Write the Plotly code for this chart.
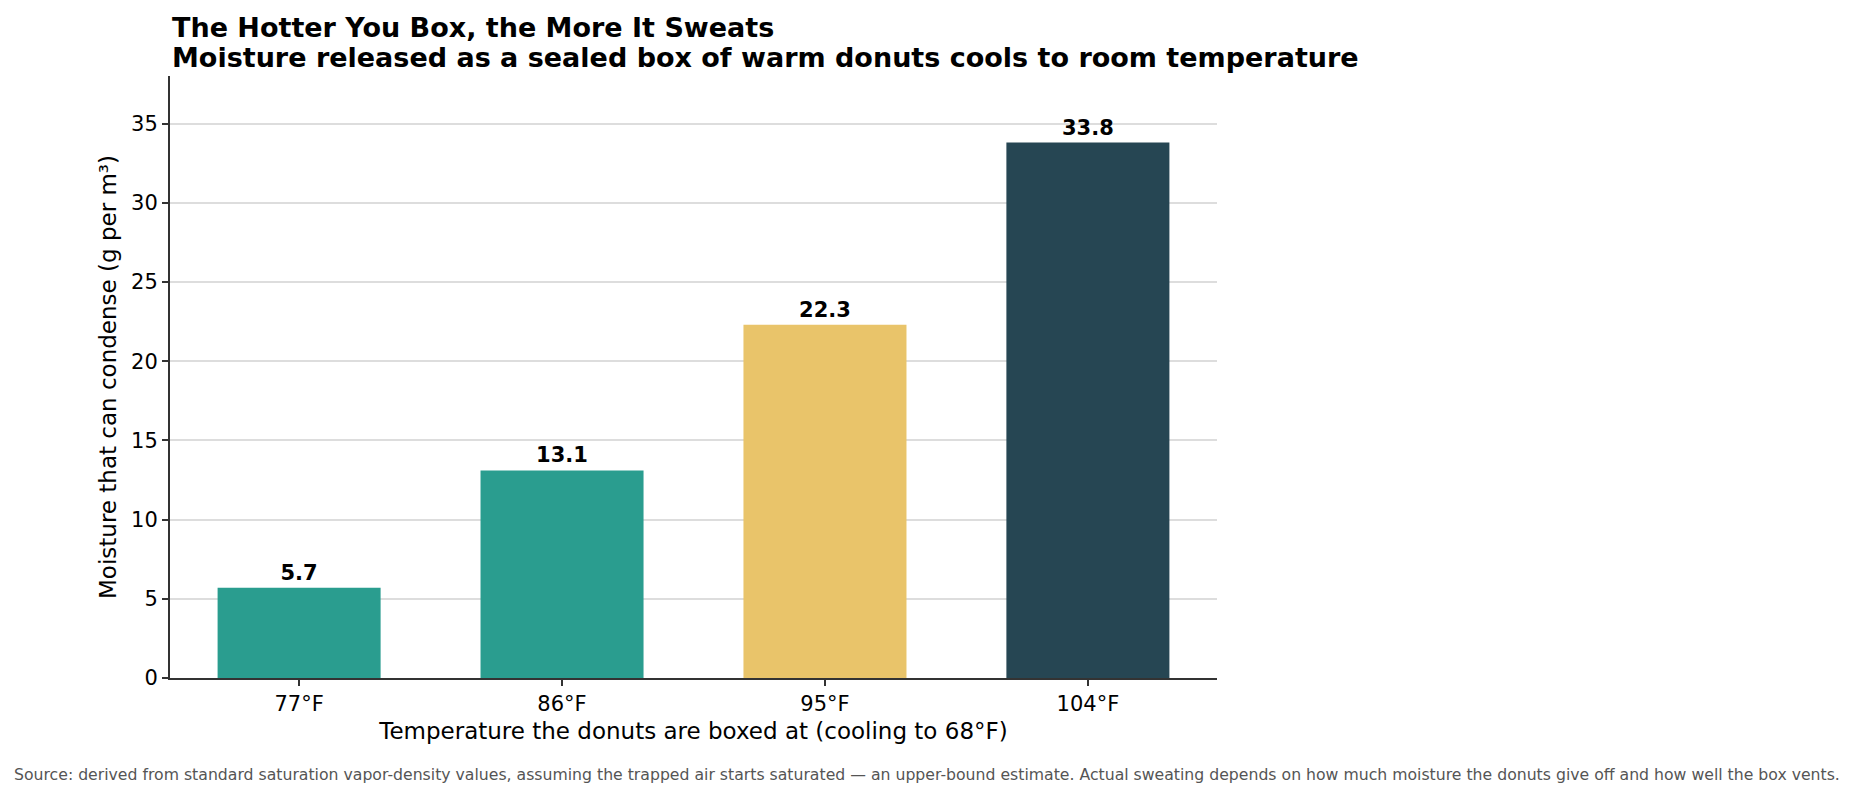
import plotly.graph_objects as go

# data
temps = ["77°F", "86°F", "95°F", "104°F"]
moisture = [5.7, 13.1, 22.3, 33.8]
bar_colors = ["#2a9d8f", "#2a9d8f", "#e9c46a", "#264653"]
labels = [f"{v:.1f}" for v in moisture]

FONT = "DejaVu Sans"

fig = go.Figure()
fig.add_trace(go.Bar(
    x=list(range(len(temps))),
    y=moisture,
    width=0.62,
    marker=dict(color=bar_colors, line=dict(width=0)),
    text=labels,
    textposition="outside",
    textfont=dict(family=FONT, size=21, color="black", weight="bold"),
    cliponaxis=False,
    hoverinfo="x+y",
))

fig.update_layout(
    width=1853,
    height=797,
    margin=dict(l=170, r=636, t=76, b=119),
    plot_bgcolor="white",
    paper_bgcolor="white",
    font=dict(family=FONT, size=21, color="black"),
    showlegend=False,
    xaxis=dict(
        range=[-0.491, 3.491],
        tickmode="array",
        tickvals=list(range(len(temps))),
        ticktext=temps,
        ticks="outside",
        ticklen=6,
        tickwidth=1.5,
        tickcolor="#333333",
        showline=True,
        linecolor="#333333",
        linewidth=2,
        showgrid=False,
        zeroline=False,
        tickfont=dict(size=21),
        title=dict(text="Temperature the donuts are boxed at (cooling to 68°F)",
                   font=dict(size=23), standoff=8),
    ),
    yaxis=dict(
        range=[0, 38],
        tickmode="array",
        tickvals=[0, 5, 10, 15, 20, 25, 30, 35],
        ticks="outside",
        ticklen=6,
        tickwidth=1.5,
        tickcolor="#333333",
        showline=True,
        linecolor="#333333",
        linewidth=2,
        showgrid=True,
        gridcolor="#dddddd",
        gridwidth=1.5,
        zeroline=False,
        tickfont=dict(size=21),
        title=dict(text="Moisture that can condense (g per m³)",
                   font=dict(size=23), standoff=8),
    ),
    annotations=[
        dict(text="<b>The Hotter You Box, the More It Sweats</b>",
             xref="paper", yref="paper", x=0, y=1.081,
             xanchor="left", yanchor="middle", showarrow=False,
             font=dict(size=27, color="black")),
        dict(text="<b>Moisture released as a sealed box of warm donuts cools to room temperature</b>",
             xref="paper", yref="paper", x=0, y=1.031,
             xanchor="left", yanchor="middle", showarrow=False,
             font=dict(size=27, color="black")),
        dict(text="Source: derived from standard saturation vapor-density values, assuming the trapped air "
                  "starts saturated — an upper-bound estimate. Actual sweating depends on how much moisture "
                  "the donuts give off and how well the box vents.",
             xref="paper", yref="paper", x=0.7226, y=-0.160,
             xanchor="center", yanchor="middle", showarrow=False,
             font=dict(size=15.7, color="#555555")),
    ],
)

# drop the page's default body margin so the figure sits at the top-left corner
fig.write_html("out.html", config={"displayModeBar": False},
               post_script="document.body.style.margin='0';")
